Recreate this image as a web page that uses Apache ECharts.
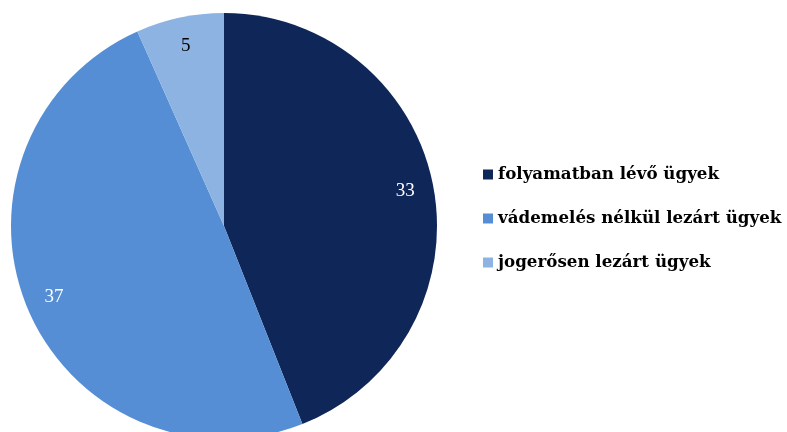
<!DOCTYPE html>
<html>
<head>
<meta charset="utf-8">
<script src="https://cdn.jsdelivr.net/npm/echarts@6/dist/echarts.min.js"></script>
<style>
  html, body { margin: 0; padding: 0; background: #fff; }
  #chart { width: 787px; height: 432px; }
</style>
</head>
<body>
<div id="chart"></div>
<script>
var categories = ['folyamatban lévő ügyek', 'vádemelés nélkül lezárt ügyek', 'jogerősen lezárt ügyek'];
var values = [33, 37, 5];
var colors = ['#0f2658', '#558ed5', '#8db3e2'];
var labelColors = ['#ffffff', '#ffffff', '#000000'];

var pieData = categories.map(function (name, i) {
    return { name: name, value: values[i], itemStyle: { color: colors[i] } };
});
// transparent ring only used to place the value labels near the rim
var labelData = categories.map(function (name, i) {
    return {
        name: name, value: values[i],
        itemStyle: { color: 'rgba(0,0,0,0)' },
        label: { color: labelColors[i] }
    };
});

var chart = echarts.init(document.getElementById('chart'));
chart.setOption({
    animation: false,
    legend: {
        orient: 'vertical',
        left: 483,
        top: 166,
        padding: 0,
        icon: 'rect',
        itemWidth: 10,
        itemHeight: 10,
        itemGap: 27,
        data: categories,
        textStyle: {
            fontFamily: 'DejaVu Serif',
            fontWeight: 'bold',
            fontSize: 16.7,
            color: '#000'
        }
    },
    series: [
        {
            type: 'pie',
            center: [224, 226],
            radius: [0, 213],
            startAngle: 90,
            clockwise: true,
            label: { show: false },
            labelLine: { show: false },
            silent: true,
            data: pieData
        },
        {
            type: 'pie',
            center: [224, 226],
            radius: [150, 213],
            startAngle: 90,
            clockwise: true,
            silent: true,
            legendHoverLink: false,
            label: {
                show: true,
                position: 'inside',
                formatter: '{c}',
                fontFamily: 'Liberation Serif',
                fontSize: 19
            },
            labelLine: { show: false },
            data: labelData
        }
    ]
});
</script>
</body>
</html>
